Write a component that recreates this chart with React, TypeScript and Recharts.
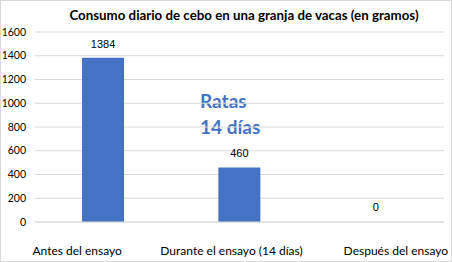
import { BarChart, Bar, XAxis, YAxis, CartesianGrid, LabelList, Rectangle } from "recharts";

const categories = ["Antes del ensayo", "Durante el ensayo (14 días)", "Después del ensayo"];
const consumo = [1384, 460, 0];
const yTicks = [0, 200, 400, 600, 800, 1000, 1200, 1400, 1600];

const data = categories.map((name, i) => ({ name, consumo: consumo[i] }));

const axisFont = "Lato, 'Open Sans', sans-serif";
const valueFont = "'Liberation Sans', Arial, sans-serif";

// category labels are spread out a little toward the plot edges
const tickShift = [-26, -8, 20];

const CategoryTick = (props: any) => {
  const { x, y, payload, index } = props;
  return (
    <text
      x={x + (tickShift[index] ?? 0)}
      y={y}
      dy={8}
      textAnchor="middle"
      fill="#000"
      fontSize={12}
      fontFamily={axisFont}
    >
      {payload.value}
    </text>
  );
};

const ValueLabel = (props: any) => {
  const { x, y, width, value } = props;
  if (x == null || y == null) return null;
  return (
    <text
      x={Number(x) + Number(width) / 2}
      y={Number(y) - 10}
      textAnchor="middle"
      fill="#000"
      fontSize={11}
      fontFamily={valueFont}
    >
      {value}
    </text>
  );
};

// zero values keep a 1px slot (so their label shows) but draw no rectangle
const BarShape = (props: any) => {
  if (!props.value || (Array.isArray(props.value) && props.value[1] === 0)) return null;
  return <Rectangle {...props} />;
};

const App = () => {
  return (
    <div
      style={{
        position: "fixed",
        left: 0,
        top: 0,
        width: 452,
        height: 262,
        boxSizing: "border-box",
        border: "1px solid #d9d9d9",
        background: "#fff",
        fontFamily: axisFont,
      }}
    >
      <div
        style={{
          position: "absolute",
          left: 0,
          width: 486,
          top: 6,
          textAlign: "center",
          fontSize: 13.3,
          fontWeight: 700,
          color: "#000",
          whiteSpace: "nowrap",
        }}
      >
        Consumo diario de cebo en una granja de vacas (en gramos)
      </div>
      <div
        style={{
          position: "absolute",
          left: 199,
          top: 87,
          fontSize: 19,
          fontWeight: 700,
          color: "#4472C4",
          lineHeight: "26px",
        }}
      >
        Ratas
        <br />
        14 días
      </div>
      <BarChart
        width={450}
        height={260}
        data={data}
        margin={{ top: 31, right: 7, left: 0, bottom: 0 }}
        barCategoryGap="34.5%"
      >
        <CartesianGrid stroke="#d9d9d9" vertical={false} />
        <XAxis
          dataKey="name"
          height={39}
          axisLine={{ stroke: "#d9d9d9" }}
          tickLine={false}
          tickSize={0}
          tickMargin={25}
          tick={<CategoryTick />}
          interval={0}
        />
        <YAxis
          width={34}
          domain={[0, 1600]}
          ticks={yTicks}
          axisLine={false}
          tickLine={false}
          tickSize={0}
          tickMargin={9}
          tick={{ fill: "#000", fontSize: 10.5, fontFamily: axisFont }}
        />
        <Bar
          dataKey="consumo"
          fill="#4472C4"
          minPointSize={1}
          shape={<BarShape />}
          isAnimationActive={false}
        >
          <LabelList dataKey="consumo" content={<ValueLabel />} />
        </Bar>
      </BarChart>
    </div>
  );
};

export default App;
